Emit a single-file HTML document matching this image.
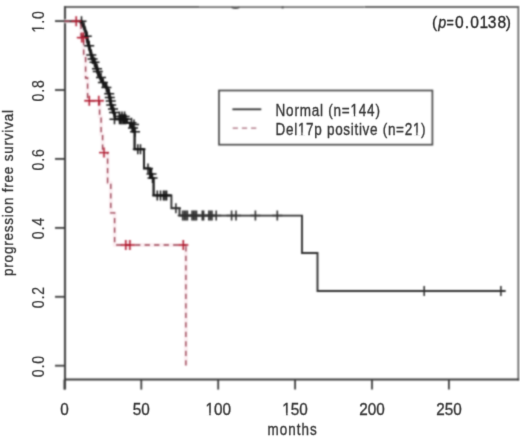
<!DOCTYPE html>
<html><head><meta charset="utf-8"><style>
html,body{margin:0;padding:0;background:#fff;}
body{width:520px;height:438px;overflow:hidden;}
svg{display:block;}
.f{font-family:"Liberation Sans",sans-serif;fill:#333;stroke:#333;stroke-width:0.35px;}
.f.y{stroke-width:0.2px;}
.p{font-family:"Liberation Sans",sans-serif;font-size:15.6px;fill:#262626;stroke:#262626;stroke-width:0.3px;}
</style></head><body>
<svg width="520" height="438" viewBox="0 0 520 438"><defs><filter id="bl" filterUnits="userSpaceOnUse" x="0" y="0" width="520" height="438" color-interpolation-filters="sRGB"><feConvolveMatrix order="5" kernelMatrix="0.00040 0.00450 0.01020 0.00450 0.00040 0.00450 0.05063 0.11475 0.05063 0.00450 0.01020 0.11475 0.26010 0.11475 0.01020 0.00450 0.05063 0.11475 0.05063 0.00450 0.00040 0.00450 0.01020 0.00450 0.00040" edgeMode="duplicate"/></filter><filter id="bt" filterUnits="userSpaceOnUse" x="0" y="0" width="520" height="438" color-interpolation-filters="sRGB"><feConvolveMatrix order="3" kernelMatrix="0.01440 0.09120 0.01440 0.09120 0.57760 0.09120 0.01440 0.09120 0.01440" edgeMode="none"/></filter></defs><g filter="url(#bl)"><rect width="520" height="438" fill="#ffffff"/><path d="M65,7 H199 M364.5,7 H518.3" stroke="#6a6a6a" stroke-width="2.1" fill="none"/><path d="M199,7.2 H364.5" stroke="#727272" stroke-width="1.8" fill="none"/><path d="M231.5,7.2 Q235.5,9.2 239.5,7.2" stroke="#505050" stroke-width="1.6" fill="none"/><circle cx="282.6" cy="7.4" r="1.2" fill="#555"/><path d="M518.3,6 V380.4" stroke="#686868" stroke-width="1.7" fill="none"/><path d="M65,6 V389.6" stroke="#474747" stroke-width="2.1" fill="none"/><path d="M64,379.5 H519.1" stroke="#3c3c3c" stroke-width="2" fill="none"/><line x1="55" y1="21.1" x2="65" y2="21.1" stroke="#3c3c3c" stroke-width="1.8"/><line x1="55" y1="90.0" x2="65" y2="90.0" stroke="#3c3c3c" stroke-width="1.8"/><line x1="55" y1="158.9" x2="65" y2="158.9" stroke="#3c3c3c" stroke-width="1.8"/><line x1="55" y1="227.9" x2="65" y2="227.9" stroke="#3c3c3c" stroke-width="1.8"/><line x1="55" y1="296.8" x2="65" y2="296.8" stroke="#3c3c3c" stroke-width="1.8"/><line x1="55" y1="365.7" x2="65" y2="365.7" stroke="#3c3c3c" stroke-width="1.8"/><line x1="64.4" y1="379.5" x2="64.4" y2="389.6" stroke="#3c3c3c" stroke-width="1.8"/><line x1="141.3" y1="379.5" x2="141.3" y2="389.6" stroke="#3c3c3c" stroke-width="1.8"/><line x1="218.2" y1="379.5" x2="218.2" y2="389.6" stroke="#3c3c3c" stroke-width="1.8"/><line x1="295.1" y1="379.5" x2="295.1" y2="389.6" stroke="#3c3c3c" stroke-width="1.8"/><line x1="372.0" y1="379.5" x2="372.0" y2="389.6" stroke="#3c3c3c" stroke-width="1.8"/><line x1="448.9" y1="379.5" x2="448.9" y2="389.6" stroke="#3c3c3c" stroke-width="1.8"/><path d="M64.4,21.2 L81.0,21.2 L81.0,37.6 L83.7,37.6 L83.7,55.0 L85.6,55.0 L85.6,78.0 L87.6,78.0 L87.6,100.8 L99.6,100.8 L99.6,117.0 L101.1,117.0 L101.1,134.5 L102.6,134.5 L102.6,152.6 L107.6,152.6 L107.6,182.7 L110.8,182.7 L110.8,212.9 L114.6,212.9 L114.6,245.0 L185.9,245.0 L185.9,365.6" stroke="#fbeff2" stroke-width="4" fill="none" stroke-linejoin="round"/><path d="M71.2,21.2 H81.2 M76.2,16.2 V26.2" stroke="#f8e2e7" stroke-width="3.5" fill="none"/><path d="M76.8,37.6 H86.8 M81.8,32.6 V42.6" stroke="#f8e2e7" stroke-width="3.5" fill="none"/><path d="M78.4,37.6 H88.4 M83.4,32.6 V42.6" stroke="#f8e2e7" stroke-width="3.5" fill="none"/><path d="M84.3,100.8 H94.3 M89.3,95.8 V105.8" stroke="#f8e2e7" stroke-width="3.5" fill="none"/><path d="M93.8,100.8 H103.8 M98.8,95.8 V105.8" stroke="#f8e2e7" stroke-width="3.5" fill="none"/><path d="M99.0,152.6 H109.0 M104.0,147.6 V157.6" stroke="#f8e2e7" stroke-width="3.5" fill="none"/><path d="M120.8,245.0 H130.8 M125.8,240.0 V250.0" stroke="#f8e2e7" stroke-width="3.5" fill="none"/><path d="M124.9,245.0 H134.9 M129.9,240.0 V250.0" stroke="#f8e2e7" stroke-width="3.5" fill="none"/><path d="M178.3,245.0 H188.3 M183.3,240.0 V250.0" stroke="#f8e2e7" stroke-width="3.5" fill="none"/><path d="M64.4,21.2 L80.4,21.2 L81.5,21.2 L81.5,23.5 L83.7,23.5 L83.7,26.6 L84.5,26.6 L84.5,28.8 L85.2,28.8 L85.2,31.0 L86.0,31.0 L86.0,33.2 L86.4,33.2 L86.4,35.5 L86.8,35.5 L86.8,37.8 L87.3,37.8 L87.3,40.1 L87.7,40.1 L87.7,42.4 L88.5,42.4 L88.5,45.0 L89.2,45.0 L89.2,47.7 L90.0,47.7 L90.0,50.3 L90.7,50.3 L90.7,52.6 L91.3,52.6 L91.3,54.9 L91.9,54.9 L91.9,57.2 L92.6,57.2 L92.6,59.5 L94.5,59.5 L94.5,62.5 L95.3,62.5 L95.3,64.8 L96.2,64.8 L96.2,67.2 L97.0,67.2 L97.0,69.6 L97.8,69.6 L97.8,71.9 L98.9,71.9 L98.9,74.6 L99.9,74.6 L99.9,77.3 L101.0,77.3 L101.0,80.0 L102.9,80.0 L102.9,82.8 L104.8,82.8 L104.8,85.5 L106.4,85.5 L106.4,87.8 L108.0,87.8 L108.0,90.1 L108.6,90.1 L108.6,92.9 L109.2,92.9 L109.2,95.6 L109.8,95.6 L109.8,98.4 L110.3,98.4 L110.3,100.9 L110.7,100.9 L110.7,103.5 L111.2,103.5 L111.2,106.0 L112.1,106.0 L112.1,108.5 L113.0,108.5 L113.0,111.0 L114.0,111.0 L114.0,113.0 L115.0,113.0 L115.0,115.0 L115.0,119.2 L127.0,119.2 L127.0,122.7 L130.0,122.7 L130.0,126.5 L132.5,126.5 L132.5,130.5 L134.6,130.5 L134.6,149.2 L144.0,149.2 L144.0,168.4 L150.0,168.4 L150.0,178.0 L153.6,178.0 L153.6,195.4 L171.4,195.4 L171.4,208.2 L179.5,208.2 L179.5,215.6 L302.0,215.6 L302.0,253.0 L317.5,253.0 L317.5,291.0 L505.0,291.0" stroke="#303030" stroke-width="1.9" fill="none"/><path d="M80.4,21.2 L81.5,23.5 L83.7,26.6 L86.0,33.2 L87.7,42.4 L90.0,50.3 L92.6,59.5 L94.5,62.5 L97.8,71.9 L101.0,80.0 L104.8,85.5 L108.0,90.1 L109.8,98.4 L111.2,106.0 L113.0,111.0 L115.0,115.0" stroke="#161616" stroke-width="2.8" fill="none" stroke-linejoin="round"/><path d="M80.4,21.2 L81.5,21.2 L81.5,23.5 L83.7,23.5 L83.7,26.6 L84.5,26.6 L84.5,28.8 L85.2,28.8 L85.2,31.0 L86.0,31.0 L86.0,33.2 L86.4,33.2 L86.4,35.5 L86.8,35.5 L86.8,37.8 L87.3,37.8 L87.3,40.1 L87.7,40.1 L87.7,42.4 L88.5,42.4 L88.5,45.0 L89.2,45.0 L89.2,47.7 L90.0,47.7 L90.0,50.3 L90.7,50.3 L90.7,52.6 L91.3,52.6 L91.3,54.9 L91.9,54.9 L91.9,57.2 L92.6,57.2 L92.6,59.5 L94.5,59.5 L94.5,62.5 L95.3,62.5 L95.3,64.8 L96.2,64.8 L96.2,67.2 L97.0,67.2 L97.0,69.6 L97.8,69.6 L97.8,71.9 L98.9,71.9 L98.9,74.6 L99.9,74.6 L99.9,77.3 L101.0,77.3 L101.0,80.0 L102.9,80.0 L102.9,82.8 L104.8,82.8 L104.8,85.5 L106.4,85.5 L106.4,87.8 L108.0,87.8 L108.0,90.1 L108.6,90.1 L108.6,92.9 L109.2,92.9 L109.2,95.6 L109.8,95.6 L109.8,98.4 L110.3,98.4 L110.3,100.9 L110.7,100.9 L110.7,103.5 L111.2,103.5 L111.2,106.0 L112.1,106.0 L112.1,108.5 L113.0,108.5 L113.0,111.0 L114.0,111.0 L114.0,113.0 L115.0,113.0 L115.0,115.0 L115.0,119.2 L127.0,119.2 L127.0,122.7 L130.0,122.7 L130.0,126.5 L132.5,126.5 L132.5,130.5 L134.6,130.5 L134.6,149.2 L144.0,149.2 L144.0,168.4 L150.0,168.4 L150.0,178.0 L153.6,178.0 L153.6,195.4 L171.4,195.4" stroke="#1e1e1e" stroke-width="1.9" fill="none"/><path d="M76.5,21.2 H86.5 M81.5,16.2 V26.2" stroke="#161616" stroke-width="1.5" fill="none"/><path d="M81.8,36.2 H91.8 M86.8,31.2 V41.2" stroke="#161616" stroke-width="1.5" fill="none"/><path d="M84.2,45.8 H94.2 M89.2,40.8 V50.8" stroke="#161616" stroke-width="1.5" fill="none"/><path d="M86.3,54.9 H96.3 M91.3,49.9 V59.9" stroke="#161616" stroke-width="1.5" fill="none"/><path d="M87.6,58.9 H97.6 M92.6,53.9 V63.9" stroke="#161616" stroke-width="1.5" fill="none"/><path d="M89.5,62.3 H99.5 M94.5,57.3 V67.3" stroke="#161616" stroke-width="1.5" fill="none"/><path d="M92.0,68.7 H102.0 M97.0,63.7 V73.7" stroke="#161616" stroke-width="1.5" fill="none"/><path d="M92.8,71.4 H102.8 M97.8,66.4 V76.4" stroke="#161616" stroke-width="1.5" fill="none"/><path d="M96.0,77.4 H106.0 M101.0,72.4 V82.4" stroke="#161616" stroke-width="1.5" fill="none"/><path d="M97.9,82.4 H107.9 M102.9,77.4 V87.4" stroke="#161616" stroke-width="1.5" fill="none"/><path d="M101.4,87.4 H111.4 M106.4,82.4 V92.4" stroke="#161616" stroke-width="1.5" fill="none"/><path d="M104.2,93.8 H114.2 M109.2,88.8 V98.8" stroke="#161616" stroke-width="1.5" fill="none"/><path d="M104.8,97.4 H114.8 M109.8,92.4 V102.4" stroke="#161616" stroke-width="1.5" fill="none"/><path d="M105.7,101.0 H115.7 M110.7,96.0 V106.0" stroke="#161616" stroke-width="1.5" fill="none"/><path d="M106.2,105.0 H116.2 M111.2,100.0 V110.0" stroke="#161616" stroke-width="1.5" fill="none"/><path d="M108.0,109.0 H118.0 M113.0,104.0 V114.0" stroke="#161616" stroke-width="1.5" fill="none"/><path d="M109.0,112.4 H119.0 M114.0,107.4 V117.4" stroke="#161616" stroke-width="1.5" fill="none"/><path d="M109.5,119.2 H119.5 M114.5,114.2 V124.2" stroke="#161616" stroke-width="1.5" fill="none"/><path d="M114.5,119.2 H124.5 M119.5,114.2 V124.2" stroke="#161616" stroke-width="1.5" fill="none"/><path d="M115.8,119.2 H125.8 M120.8,114.2 V124.2" stroke="#161616" stroke-width="1.5" fill="none"/><path d="M117.0,119.2 H127.0 M122.0,114.2 V124.2" stroke="#161616" stroke-width="1.5" fill="none"/><path d="M118.3,119.2 H128.3 M123.3,114.2 V124.2" stroke="#161616" stroke-width="1.5" fill="none"/><path d="M119.6,119.2 H129.6 M124.6,114.2 V124.2" stroke="#161616" stroke-width="1.5" fill="none"/><path d="M120.8,119.2 H130.8 M125.8,114.2 V124.2" stroke="#161616" stroke-width="1.5" fill="none"/><path d="M114.5,116.5 H124.5 M119.5,111.5 V121.5" stroke="#161616" stroke-width="1.5" fill="none"/><path d="M117.0,116.5 H127.0 M122.0,111.5 V121.5" stroke="#161616" stroke-width="1.5" fill="none"/><path d="M119.6,116.5 H129.6 M124.6,111.5 V121.5" stroke="#161616" stroke-width="1.5" fill="none"/><path d="M126.5,122.7 H136.5 M131.5,117.7 V127.7" stroke="#161616" stroke-width="1.5" fill="none"/><path d="M129.0,124.5 H139.0 M134.0,119.5 V129.5" stroke="#161616" stroke-width="1.5" fill="none"/><path d="M130.0,131.8 H140.0 M135.0,126.8 V136.8" stroke="#161616" stroke-width="1.5" fill="none"/><path d="M128.0,128.0 H138.0 M133.0,123.0 V133.0" stroke="#161616" stroke-width="1.5" fill="none"/><path d="M132.8,149.2 H142.8 M137.8,144.2 V154.2" stroke="#161616" stroke-width="1.5" fill="none"/><path d="M135.5,149.2 H145.5 M140.5,144.2 V154.2" stroke="#161616" stroke-width="1.5" fill="none"/><path d="M143.0,168.4 H153.0 M148.0,163.4 V173.4" stroke="#161616" stroke-width="1.5" fill="none"/><path d="M146.5,174.0 H156.5 M151.5,169.0 V179.0" stroke="#161616" stroke-width="1.5" fill="none"/><path d="M147.5,178.0 H157.5 M152.5,173.0 V183.0" stroke="#161616" stroke-width="1.5" fill="none"/><path d="M152.3,195.4 H162.3 M157.3,190.4 V200.4" stroke="#161616" stroke-width="1.5" fill="none"/><path d="M155.5,195.4 H165.5 M160.5,190.4 V200.4" stroke="#161616" stroke-width="1.5" fill="none"/><path d="M158.5,195.4 H168.5 M163.5,190.4 V200.4" stroke="#161616" stroke-width="1.5" fill="none"/><path d="M160.0,195.4 H170.0 M165.0,190.4 V200.4" stroke="#161616" stroke-width="1.5" fill="none"/><path d="M161.6,195.4 H171.6 M166.6,190.4 V200.4" stroke="#161616" stroke-width="1.5" fill="none"/><path d="M170.9,208.2 H180.9 M175.9,203.2 V213.2" stroke="#303030" stroke-width="1.6" fill="none"/><path d="M177.7,215.5 H187.7 M182.7,210.5 V220.5" stroke="#303030" stroke-width="1.6" fill="none"/><path d="M179.3,215.5 H189.3 M184.3,210.5 V220.5" stroke="#303030" stroke-width="1.6" fill="none"/><path d="M180.9,215.5 H190.9 M185.9,210.5 V220.5" stroke="#303030" stroke-width="1.6" fill="none"/><path d="M182.4,215.5 H192.4 M187.4,210.5 V220.5" stroke="#303030" stroke-width="1.6" fill="none"/><path d="M187.0,215.5 H197.0 M192.0,210.5 V220.5" stroke="#303030" stroke-width="1.6" fill="none"/><path d="M188.6,215.5 H198.6 M193.6,210.5 V220.5" stroke="#303030" stroke-width="1.6" fill="none"/><path d="M190.0,215.5 H200.0 M195.0,210.5 V220.5" stroke="#303030" stroke-width="1.6" fill="none"/><path d="M191.5,215.5 H201.5 M196.5,210.5 V220.5" stroke="#303030" stroke-width="1.6" fill="none"/><path d="M197.3,215.5 H207.3 M202.3,210.5 V220.5" stroke="#303030" stroke-width="1.6" fill="none"/><path d="M198.6,215.5 H208.6 M203.6,210.5 V220.5" stroke="#303030" stroke-width="1.6" fill="none"/><path d="M203.8,215.5 H213.8 M208.8,210.5 V220.5" stroke="#303030" stroke-width="1.6" fill="none"/><path d="M205.4,215.5 H215.4 M210.4,210.5 V220.5" stroke="#303030" stroke-width="1.6" fill="none"/><path d="M207.0,215.5 H217.0 M212.0,210.5 V220.5" stroke="#303030" stroke-width="1.6" fill="none"/><path d="M211.2,215.5 H221.2 M216.2,210.5 V220.5" stroke="#303030" stroke-width="1.6" fill="none"/><path d="M226.6,215.5 H236.6 M231.6,210.5 V220.5" stroke="#303030" stroke-width="1.6" fill="none"/><path d="M231.0,215.5 H241.0 M236.0,210.5 V220.5" stroke="#303030" stroke-width="1.6" fill="none"/><path d="M250.4,215.5 H260.4 M255.4,210.5 V220.5" stroke="#303030" stroke-width="1.6" fill="none"/><path d="M272.3,215.5 H282.3 M277.3,210.5 V220.5" stroke="#303030" stroke-width="1.6" fill="none"/><path d="M419.2,291.0 H429.2 M424.2,286.0 V296.0" stroke="#303030" stroke-width="1.6" fill="none"/><path d="M495.9,291.0 H505.9 M500.9,286.0 V296.0" stroke="#303030" stroke-width="1.6" fill="none"/><path d="M64.4,21.2 L81.0,21.2 L81.0,37.6 L83.7,37.6 L83.7,55.0 L85.6,55.0 L85.6,78.0 L87.6,78.0 L87.6,100.8 L99.6,100.8 L99.6,117.0 L101.1,117.0 L101.1,134.5 L102.6,134.5 L102.6,152.6 L107.6,152.6 L107.6,182.7 L110.8,182.7 L110.8,212.9 L114.6,212.9 L114.6,245.0 L185.9,245.0" stroke="#9a4052" stroke-width="1.35" fill="none" stroke-dasharray="5.3 4.2"/><path d="M185.9,245 V365.7" stroke="#9a4052" stroke-width="1.35" fill="none" stroke-dasharray="5.3 4.2" stroke-dashoffset="8.3"/><path d="M71.2,21.2 H81.2 M76.2,16.2 V26.2" stroke="#b01c30" stroke-width="1.4" fill="none"/><path d="M76.8,37.6 H86.8 M81.8,32.6 V42.6" stroke="#b01c30" stroke-width="1.4" fill="none"/><path d="M78.4,37.6 H88.4 M83.4,32.6 V42.6" stroke="#b01c30" stroke-width="1.4" fill="none"/><path d="M84.3,100.8 H94.3 M89.3,95.8 V105.8" stroke="#b01c30" stroke-width="1.4" fill="none"/><path d="M93.8,100.8 H103.8 M98.8,95.8 V105.8" stroke="#b01c30" stroke-width="1.4" fill="none"/><path d="M99.0,152.6 H109.0 M104.0,147.6 V157.6" stroke="#b01c30" stroke-width="1.4" fill="none"/><path d="M120.8,245.0 H130.8 M125.8,240.0 V250.0" stroke="#b01c30" stroke-width="1.4" fill="none"/><path d="M124.9,245.0 H134.9 M129.9,240.0 V250.0" stroke="#b01c30" stroke-width="1.4" fill="none"/><path d="M178.3,245.0 H188.3 M183.3,240.0 V250.0" stroke="#b01c30" stroke-width="1.4" fill="none"/><rect x="219" y="90.5" width="213.4" height="54.2" fill="#fff" stroke="#4a4a4a" stroke-width="1.7"/><line x1="232.4" y1="109.3" x2="261.3" y2="109.3" stroke="#333" stroke-width="1.8"/><line x1="232.7" y1="128.1" x2="256.3" y2="128.1" stroke="#a86a7a" stroke-width="1.3" stroke-dasharray="5.2 4"/></g><g filter="url(#bt)"><text x="0" y="0" transform="translate(44.00,21.90) rotate(-90) scale(0.880,1)" text-anchor="middle" font-size="16" class="f y" textLength="24.32" lengthAdjust="spacing">1.0</text><text x="0" y="0" transform="translate(44.00,90.82) rotate(-90) scale(0.880,1)" text-anchor="middle" font-size="16" class="f y" textLength="24.32" lengthAdjust="spacing">0.8</text><text x="0" y="0" transform="translate(44.00,159.74) rotate(-90) scale(0.880,1)" text-anchor="middle" font-size="16" class="f y" textLength="24.32" lengthAdjust="spacing">0.6</text><text x="0" y="0" transform="translate(44.00,228.66) rotate(-90) scale(0.880,1)" text-anchor="middle" font-size="16" class="f y" textLength="24.32" lengthAdjust="spacing">0.4</text><text x="0" y="0" transform="translate(44.00,297.58) rotate(-90) scale(0.880,1)" text-anchor="middle" font-size="16" class="f y" textLength="24.32" lengthAdjust="spacing">0.2</text><text x="0" y="0" transform="translate(44.00,366.50) rotate(-90) scale(0.880,1)" text-anchor="middle" font-size="16" class="f y" textLength="24.32" lengthAdjust="spacing">0.0</text><text x="0" y="0" transform="translate(64.40,415.00) scale(0.910,1)" text-anchor="middle" font-size="16.8" class="f">0</text><text x="0" y="0" transform="translate(141.30,415.00) scale(0.910,1)" text-anchor="middle" font-size="16.8" class="f">50</text><text x="0" y="0" transform="translate(218.20,415.00) scale(0.910,1)" text-anchor="middle" font-size="16.8" class="f">100</text><text x="0" y="0" transform="translate(295.10,415.00) scale(0.910,1)" text-anchor="middle" font-size="16.8" class="f">150</text><text x="0" y="0" transform="translate(372.00,415.00) scale(0.910,1)" text-anchor="middle" font-size="16.8" class="f">200</text><text x="0" y="0" transform="translate(448.90,415.00) scale(0.910,1)" text-anchor="middle" font-size="16.8" class="f">250</text><text x="0" y="0" transform="translate(292.10,434.60) scale(0.850,1)" text-anchor="middle" font-size="15.8" class="f" textLength="58.00" lengthAdjust="spacing">months</text><text x="0" y="0" transform="translate(12.80,193.00) rotate(-90) scale(0.870,1)" text-anchor="middle" font-size="15.5" class="f" textLength="190.80" lengthAdjust="spacing">progression free survival</text><text x="0" y="0" transform="translate(275.60,115.90) scale(0.820,1)" text-anchor="start" font-size="16.5" class="f" textLength="127.20" lengthAdjust="spacing">Normal (n=144)</text><text x="0" y="0" transform="translate(275.60,134.80) scale(0.820,1)" text-anchor="start" font-size="16.5" class="f" textLength="182.93" lengthAdjust="spacing">Del17p positive (n=21)</text><text x="0" y="0" transform="translate(431.97,28.4) scale(1.0,1)" class="p">(</text><text x="0" y="0" transform="translate(438.32,28.4) scale(0.92,1)" class="p" font-style="italic">p</text><text x="0" y="0" transform="translate(446.51,28.4) scale(0.8,1)" class="p">=</text><text x="0" y="0" transform="translate(455.06,28.4) scale(1.0,1)" class="p">0</text><text x="0" y="0" transform="translate(464.78,28.4) scale(1.0,1)" class="p">.</text><text x="0" y="0" transform="translate(470.21,28.4) scale(1.0,1)" class="p">0</text><text x="0" y="0" transform="translate(479.50,28.4) scale(1.0,1)" class="p">1</text><text x="0" y="0" transform="translate(487.76,28.4) scale(1.0,1)" class="p">3</text><text x="0" y="0" transform="translate(497.46,28.4) scale(1.0,1)" class="p">8</text><text x="0" y="0" transform="translate(505.84,28.4) scale(1.0,1)" class="p">)</text><g transform="translate(44.00,21.90) rotate(-90) scale(0.880,1)"><rect x="-11.84" y="-2.10" width="3.65" height="3.00" fill="#fff"/><rect x="-6.67" y="-2.10" width="3.53" height="3.00" fill="#fff"/></g><g transform="translate(218.20,415.00) scale(0.910,1)"><rect x="-13.63" y="-2.16" width="3.79" height="3.06" fill="#fff"/><rect x="-8.25" y="-2.16" width="3.66" height="3.06" fill="#fff"/></g><g transform="translate(295.10,415.00) scale(0.910,1)"><rect x="-13.63" y="-2.16" width="3.79" height="3.06" fill="#fff"/><rect x="-8.25" y="-2.16" width="3.66" height="3.06" fill="#fff"/></g><g transform="translate(275.60,115.90) scale(0.820,1)"><rect x="91.74" y="-2.13" width="3.74" height="3.03" fill="#fff"/><rect x="97.04" y="-2.13" width="3.61" height="3.03" fill="#fff"/></g><g transform="translate(275.60,134.80) scale(0.820,1)"><rect x="27.59" y="-2.13" width="3.74" height="3.03" fill="#fff"/><rect x="32.89" y="-2.13" width="3.61" height="3.03" fill="#fff"/></g><g transform="translate(275.60,134.80) scale(0.820,1)"><rect x="167.79" y="-2.13" width="3.74" height="3.03" fill="#fff"/><rect x="173.09" y="-2.13" width="3.61" height="3.03" fill="#fff"/></g></g></svg>
</body></html>
